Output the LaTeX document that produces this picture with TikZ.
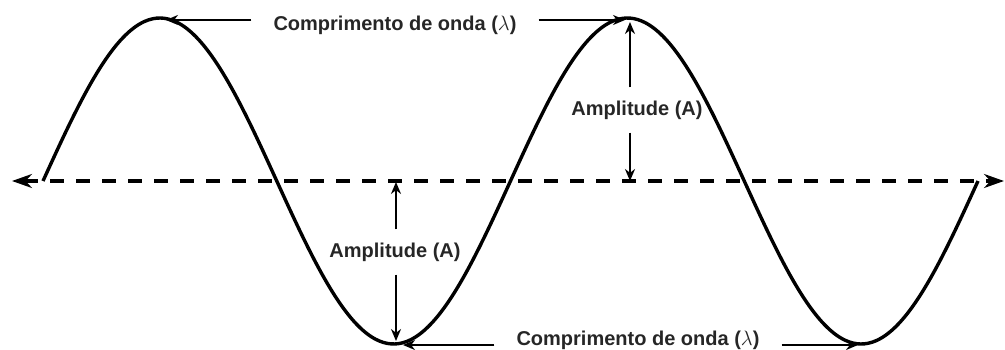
\documentclass[tikz,border=0pt]{standalone}
\usepackage{fontspec}
\setmainfont{Liberation Sans}
\usetikzlibrary{arrows.meta}
\begin{document}
\begin{tikzpicture}[x=1pt,y=-1pt,
  wave/.style={line width=3.4pt, line join=round},
  axisline/.style={line width=3.2pt, dash pattern=on 14pt off 12pt,
    {Stealth[length=20pt,width=14pt]}-{Stealth[length=20pt,width=14pt]}},
  pointer/.style={line width=2.2pt, -{Stealth[length=12pt,width=10pt]}},
  lab/.style={font=\bfseries\fontsize{20}{24}\selectfont, text=black!85, inner ysep=0pt, inner xsep=22pt},
  amplab/.style={font=\bfseries\fontsize{20}{24}\selectfont, text=black!85, inner xsep=0pt, inner ysep=13pt}]
\useasboundingbox (0,0) rectangle (1005,350);
% axis
\coordinate (axL) at (12,181);
\coordinate (axR) at (1004,181);
\draw[axisline] (axL) -- (axR);
% wave
\draw[wave] plot[domain=43:978, samples=240, smooth] (\x, {181-163*sin((\x-43)/233.75*180)});
% key points
\coordinate (pk1) at (166,20);
\coordinate (pk2) at (625,20);
\coordinate (tr1) at (403,345);
\coordinate (tr2) at (858,345);
\coordinate (a1top) at (630,22);
\coordinate (a1bot) at (630,181);
\coordinate (a2top) at (396,182);
\coordinate (a2bot) at (396,341);
% wavelength labels
\node[lab] (wl1) at (395,25) {Comprimento de onda ($\lambda$)};
\draw[pointer] (wl1.west |- pk1) -- (pk1);
\draw[pointer] (wl1.east |- pk2) -- (pk2);
\node[lab] (wl2) at (638,340) {Comprimento de onda ($\lambda$)};
\draw[pointer] (wl2.west |- tr1) -- (tr1);
\draw[pointer] (wl2.east |- tr2) -- (tr2);
% amplitude labels
\node[amplab] (am1) at (637,110) {Amplitude (A)};
\draw[pointer] (am1.north -| a1top) -- (a1top);
\draw[pointer] (am1.south -| a1bot) -- (a1bot);
\node[amplab] (am2) at (395,252) {Amplitude (A)};
\draw[pointer] (am2.north -| a2top) -- (a2top);
\draw[pointer] (am2.south -| a2bot) -- (a2bot);
\end{tikzpicture}
\end{document}
